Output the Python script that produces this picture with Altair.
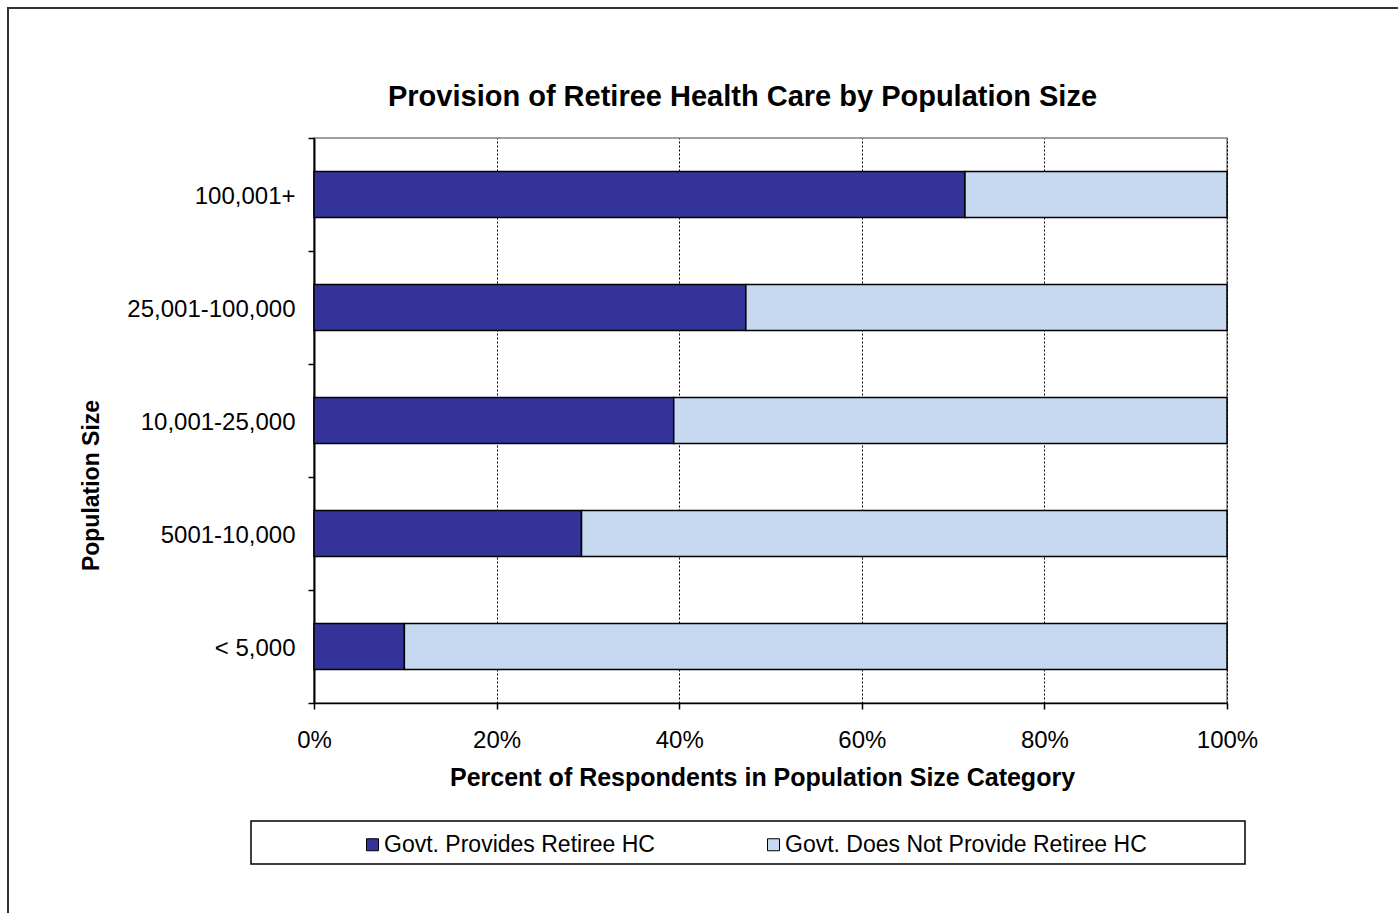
import altair as alt
import pandas as pd

categories = ["100,001+", "25,001-100,000", "10,001-25,000", "5001-10,000", "< 5,000"]
provides = [71.3, 47.3, 39.4, 29.3, 9.9]
not_provide = [28.7, 52.7, 60.6, 70.7, 90.1]
series = ["Govt. Provides Retiree HC", "Govt. Does Not Provide Retiree HC"]
colors = ["#333399", "#C6D9F0"]
x_ticks = [0, 20, 40, 60, 80, 100]

rows = []
for c, p, n in zip(categories, provides, not_provide):
    rows.append({"cat": c, "series": series[0], "value": p, "ord": 0})
    rows.append({"cat": c, "series": series[1], "value": n, "ord": 1})
df = pd.DataFrame(rows)

FONT = "Liberation Sans"
W, H = 913, 565
LEFT, TOP = 314, 138

bars = alt.Chart(df).mark_bar(stroke="black", strokeWidth=1.5, size=46).encode(
    y=alt.Y("cat:N", sort=categories,
            scale=alt.Scale(paddingInner=0, paddingOuter=0),
            axis=alt.Axis(title="Population Size", labelFontSize=24, labelFont=FONT,
                          labelColor="black", labelPadding=13, labelOffset=2, tickSize=6,
                          tickBand="extent", tickColor="black", tickWidth=1.5,
                          domainColor="black", domainWidth=2,
                          titleFont=FONT, titleFontSize=23, titleFontWeight="bold",
                          titleColor="black", titleX=-223, titleY=347,
                          titleBaseline="middle", titleAngle=-90, grid=False)),
    x=alt.X("value:Q", stack="zero",
            scale=alt.Scale(domain=[0, 100], nice=False),
            axis=alt.Axis(values=x_ticks, labelExpr="datum.value + '%'",
                          title="Percent of Respondents in Population Size Category",
                          labelFontSize=24, labelFont=FONT, labelColor="black",
                          labelPadding=19, labelFlush=False, tickSize=6,
                          tickColor="black", tickWidth=1.5,
                          domainColor="black", domainWidth=1.5,
                          grid=True, gridColor="black", gridDash=[2, 2], gridWidth=1,
                          titleFont=FONT, titleFontSize=25, titleFontWeight="bold",
                          titleColor="black", titleX=448, titleY=74,
                          titleBaseline="middle")),
    color=alt.Color("series:N", scale=alt.Scale(domain=series, range=colors),
                    legend=alt.Legend(title=None, orient="none", direction="horizontal",
                                      legendX=47, legendY=695, labelFont=FONT,
                                      labelFontSize=23, labelColor="black", labelLimit=0,
                                      symbolType="square", symbolSize=144,
                                      symbolStrokeColor="black", symbolStrokeWidth=1,
                                      labelOffset=0, columnPadding=107, padding=0)),
    order=alt.Order("ord:Q"),
)

box_df = pd.DataFrame({"k": [0]})
legend_box = alt.Chart(box_df).mark_rect(fill="transparent", stroke="black", strokeWidth=1.5).encode(
    x=alt.value(251 - LEFT), x2=alt.value(1245 - LEFT),
    y=alt.value(821 - TOP), y2=alt.value(864 - TOP),
)
outer_box = alt.Chart(box_df).mark_rect(fill="transparent", stroke="#333333", strokeWidth=2).encode(
    x=alt.value(8 - LEFT), x2=alt.value(1398 - LEFT + 10),
    y=alt.value(8 - TOP), y2=alt.value(913 - TOP + 10),
)

chart = alt.layer(bars, legend_box, outer_box).properties(
    width=W, height=H,
    title=alt.TitleParams("Provision of Retiree Health Care by Population Size",
                          font=FONT, fontSize=29, fontWeight="bold", color="black",
                          anchor="middle", dx=-28, offset=0, dy=105),
    autosize=alt.AutoSizeParams(type="none"),
    padding={"left": LEFT, "top": TOP, "right": 1398 - LEFT - W, "bottom": 913 - TOP - H},
    background="white",
).configure_view(stroke="#808080", strokeWidth=1.5)

chart.save("out.html", embed_options={"renderer": "svg", "actions": False})
